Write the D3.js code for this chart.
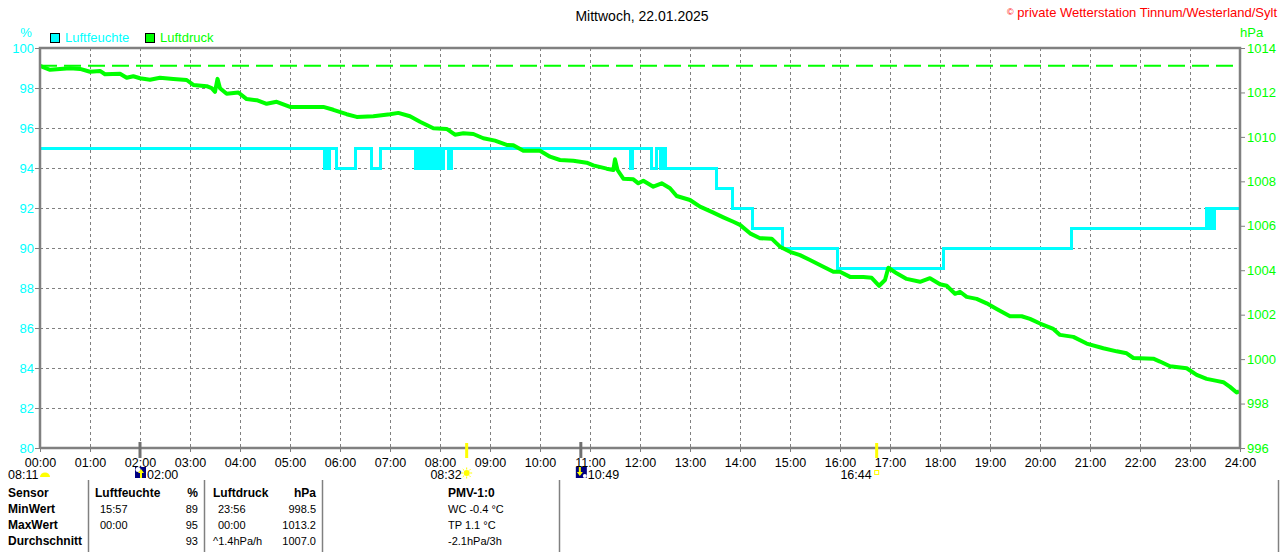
<!DOCTYPE html>
<html>
<head>
<meta charset="utf-8">
<script src="https://cdn.jsdelivr.net/npm/d3@7"></script>
<style>
  body { margin: 0; background: #fff; }
  svg { display: block; }
  .narrow { font-family: "Liberation Sans Narrow", "Arial Narrow", "Liberation Sans", Arial, sans-serif; }
  .plain { font-family: "Liberation Sans", Arial, sans-serif; }
</style>
</head>
<body>
<svg id="chart" width="1280" height="552"></svg>
<script>
const title = "Mittwoch, 22.01.2025";
const copyright = "private Wetterstation Tinnum/Westerland/Sylt";

const humidityTicks = d3.range(80, 101, 2);
const pressureTicks = d3.range(996, 1015, 2);
const hourTicks = d3.range(0, 25);

const pressureMax = 1013.2;

// Luftfeuchte, Stufen (Zeit, %)
const humidityTimes = ["00:00", "05:41", "05:43", "05:45", "05:47", "05:56", "06:18", "06:38", "06:48",
  "07:30", "07:33", "07:36", "07:40", "07:44", "07:46", "07:49", "07:52", "07:55", "07:58", "08:00",
  "08:04", "08:10", "08:14", "11:48", "11:51", "12:14", "12:20", "12:24", "12:27", "12:30", "13:32",
  "13:51", "14:15", "14:51", "15:57", "18:04", "20:38", "23:20", "23:22", "23:24", "23:27", "23:29", "24:00"];
const humidityValues = [95, 94, 95, 94, 95, 94, 95, 94, 95,
  94, 95, 94, 95, 94, 95, 94, 95, 94, 95, 94,
  95, 94, 95, 94, 95, 94, 95, 94, 95, 94, 93,
  92, 91, 90, 89, 90, 91, 92, 91, 92, 91, 92, 92];

// Luftdruck (Zeit, hPa)
const pressureTimes = ["00:00", "00:12", "00:24", "00:36", "00:48", "01:00", "01:12", "01:18", "01:36", "01:44",
  "01:52", "02:00", "02:12", "02:24", "02:40", "02:56", "03:04", "03:20", "03:26", "03:30", "03:33", "03:36",
  "03:44", "03:58", "04:08", "04:20", "04:32", "04:44", "05:00", "05:20", "05:40", "05:52", "06:08", "06:20",
  "06:40", "07:00", "07:10", "07:24", "07:36", "07:52", "08:08", "08:18", "08:28", "08:40", "08:52", "09:06",
  "09:20", "09:28", "09:40", "10:00", "10:12", "10:24", "10:40", "10:56", "11:04", "11:20", "11:28", "11:30",
  "11:33", "11:40", "11:52", "11:58", "12:04", "12:16", "12:26", "12:36", "12:44", "13:00", "13:12", "13:28",
  "13:40", "13:52", "14:00", "14:12", "14:24", "14:38", "14:48", "15:00", "15:12", "15:24", "15:40", "15:52",
  "16:00", "16:12", "16:28", "16:38", "16:47", "16:54", "16:58", "17:08", "17:20", "17:36", "17:48", "18:00",
  "18:08", "18:18", "18:24", "18:32", "18:44", "18:56", "19:08", "19:24", "19:38", "19:48", "20:00", "20:16",
  "20:24", "20:40", "20:56", "21:16", "21:32", "21:44", "21:52", "22:16", "22:24", "22:36", "22:56", "23:08",
  "23:20", "23:32", "23:40", "23:48", "23:56", "23:59"];
const pressureValues = [1013.2, 1013.02, 1013.06, 1013.09, 1013.06, 1012.93, 1012.97, 1012.82, 1012.84, 1012.66,
  1012.73, 1012.64, 1012.57, 1012.66, 1012.61, 1012.56, 1012.34, 1012.28, 1012.19, 1012.03, 1012.61, 1012.19,
  1011.94, 1012.0, 1011.7, 1011.65, 1011.49, 1011.58, 1011.35, 1011.35, 1011.35, 1011.22, 1011.02, 1010.9,
  1010.93, 1011.02, 1011.08, 1010.93, 1010.68, 1010.39, 1010.36, 1010.1, 1010.16, 1010.13, 1009.94, 1009.83,
  1009.64, 1009.62, 1009.38, 1009.38, 1009.11, 1008.96, 1008.93, 1008.84, 1008.72, 1008.57, 1008.51, 1008.99,
  1008.51, 1008.12, 1008.09, 1007.91, 1008.03, 1007.76, 1007.91, 1007.69, 1007.34, 1007.16, 1006.86, 1006.59,
  1006.38, 1006.18, 1006.04, 1005.66, 1005.44, 1005.42, 1005.06, 1004.83, 1004.68, 1004.46, 1004.16, 1003.93,
  1003.93, 1003.7, 1003.7, 1003.66, 1003.3, 1003.56, 1004.11, 1003.86, 1003.61, 1003.48, 1003.64, 1003.37,
  1003.3, 1002.94, 1003.03, 1002.8, 1002.71, 1002.51, 1002.26, 1001.93, 1001.93, 1001.81, 1001.6, 1001.36,
  1001.09, 1001.0, 1000.7, 1000.49, 1000.35, 1000.26, 1000.05, 1000.02, 999.89, 999.68, 999.59, 999.29,
  999.11, 999.02, 998.96, 998.75, 998.5, 998.55];

// Sonne / Mond
const dawnTime = "08:11";
const sunEvents = [
  { time: "08:32", kind: "sunrise" },
  { time: "16:44", kind: "sunset" }
];
const moonEvents = [
  { time: "02:00", kind: "moonrise" },
  { time: "10:49", kind: "moonset" }
];

// Tabelle
const rowLabels = ["Sensor", "MinWert", "MaxWert", "Durchschnitt"];
const humidityHeader = ["Luftfeuchte", "%"];
const humidityTableTimes = ["15:57", "00:00", ""];
const humidityTableValues = ["89", "95", "93"];
const pressureHeader = ["Luftdruck", "hPa"];
const pressureTableTimes = ["23:56", "00:00", "^1.4hPa/h"];
const pressureTableValues = ["998.5", "1013.2", "1007.0"];
const pmvLines = ["PMV-1:0", "WC -0.4 °C", "TP 1.1 °C", "-2.1hPa/3h"];

const toMin = t => {
  const [h, m] = t.split(":").map(Number);
  return h * 60 + m;
};

const svg = d3.select("#chart");
const plotLeft = 40, plotRight = 1240, plotTop = 48, plotBottom = 448;
const cyan = "#00ffff", green = "#00ff00", grey = "#808080";

const x = d3.scaleLinear().domain([0, 1440]).range([plotLeft, plotRight]);
const yHum = d3.scaleLinear().domain([80, 100]).range([plotBottom, plotTop]);
const yPres = d3.scaleLinear().domain([996, 1014]).range([plotBottom, plotTop]);

// Gitter
const grid = svg.append("g").attr("stroke", grey).attr("stroke-dasharray", "3,3").attr("shape-rendering", "crispEdges");
grid.selectAll("line.v")
  .data(hourTicks.slice(1, -1))
  .enter().append("line")
  .attr("x1", d => x(d * 60) + 0.5).attr("x2", d => x(d * 60) + 0.5)
  .attr("y1", plotTop).attr("y2", plotBottom);
grid.selectAll("line.h")
  .data(humidityTicks.slice(1, -1))
  .enter().append("line")
  .attr("x1", plotLeft).attr("x2", plotRight)
  .attr("y1", d => yHum(d) + 0.5).attr("y2", d => yHum(d) + 0.5);

// Maximum Luftdruck
svg.append("line")
  .attr("x1", plotLeft).attr("x2", plotRight)
  .attr("y1", yPres(pressureMax)).attr("y2", yPres(pressureMax))
  .attr("stroke", green).attr("stroke-width", 2)
  .attr("stroke-dasharray", "17,7");

// Linien
const humData = humidityTimes.map((t, i) => ({ t: toMin(t), v: humidityValues[i] }));
const presData = pressureTimes.map((t, i) => ({ t: toMin(t), v: pressureValues[i] }));

svg.append("path")
  .datum(humData)
  .attr("fill", "none")
  .attr("stroke", cyan)
  .attr("stroke-width", 3)
  .attr("shape-rendering", "crispEdges")
  .attr("d", d3.line().x(d => x(d.t)).y(d => yHum(d.v)).curve(d3.curveStepAfter));

svg.append("path")
  .datum(presData)
  .attr("fill", "none")
  .attr("stroke", green)
  .attr("stroke-width", 4)
  .attr("stroke-linejoin", "round")
  .attr("d", d3.line().x(d => x(d.t)).y(d => yPres(d.v)));

// Rahmen
svg.append("path")
  .attr("d", `M${plotLeft},${plotBottom}V${plotTop}H${plotRight}V${plotBottom}H${plotLeft}`)
  .attr("fill", "none").attr("stroke", grey).attr("stroke-width", 2.5);

// Achsen
const axL = svg.append("g").attr("class", "narrow")
  .attr("transform", `translate(${plotLeft},0)`)
  .call(d3.axisLeft(yHum).tickValues(humidityTicks).tickSize(5).tickPadding(1));
axL.select(".domain").remove();
axL.selectAll("line").attr("stroke", grey);
axL.selectAll("text").attr("fill", cyan).attr("font-size", 13);

const axR = svg.append("g").attr("class", "narrow")
  .attr("transform", `translate(${plotRight},0)`)
  .call(d3.axisRight(yPres).tickValues(pressureTicks).tickSize(5).tickPadding(2).tickFormat(d3.format("d")));
axR.select(".domain").remove();
axR.selectAll("line").attr("stroke", grey);
axR.selectAll("text").attr("fill", green).attr("font-size", 13);

const axB = svg.append("g").attr("class", "narrow")
  .attr("transform", `translate(0,${plotBottom})`)
  .call(d3.axisBottom(x).tickValues(hourTicks.map(h => h * 60)).tickSize(4).tickPadding(6)
    .tickFormat(d => d3.format("02d")(d / 60) + ":00"));
axB.select(".domain").remove();
axB.selectAll("line").attr("stroke", grey);
axB.selectAll("text").attr("fill", "#000").attr("font-size", 12.5);

// Titel, Legende
svg.append("text").attr("class", "plain")
  .attr("x", 642).attr("y", 21).attr("text-anchor", "middle")
  .attr("font-size", 14).text(title);

const cr = svg.append("text").attr("class", "narrow")
  .attr("x", 1277).attr("y", 17).attr("text-anchor", "end")
  .attr("font-size", 13).attr("fill", "#ff0000");
cr.append("tspan").attr("font-size", 9).attr("dy", -2).text("©");
cr.append("tspan").attr("dy", 2).text(" " + copyright);

svg.append("text").attr("class", "narrow").attr("x", 26).attr("y", 37)
  .attr("text-anchor", "middle").attr("font-size", 13).attr("fill", cyan).text("%");
svg.append("text").attr("class", "narrow").attr("x", 1240).attr("y", 37)
  .attr("font-size", 13).attr("fill", green).text("hPa");

const legendItems = [
  { name: "Luftfeuchte", color: cyan, x: 50 },
  { name: "Luftdruck", color: green, x: 145 }
];
const lg = svg.append("g").attr("class", "narrow");
lg.selectAll("rect").data(legendItems).enter().append("rect")
  .attr("x", d => d.x + 0.5).attr("y", 33.5).attr("width", 9).attr("height", 9)
  .attr("fill", d => d.color).attr("stroke", "#000");
lg.selectAll("text").data(legendItems).enter().append("text")
  .attr("x", d => d.x + 15).attr("y", 42).attr("font-size", 13)
  .attr("fill", d => d.color).text(d => d.name);

// Sonne / Mond Markierungen
const ev = svg.append("g").attr("class", "narrow").attr("font-size", 12.5);
ev.selectAll("line.sun").data(sunEvents).enter().append("line")
  .attr("x1", d => x(toMin(d.time))).attr("x2", d => x(toMin(d.time)))
  .attr("y1", 443).attr("y2", 458).attr("stroke", "#ffff00").attr("stroke-width", 3);
ev.selectAll("line.moon").data(moonEvents).enter().append("line")
  .attr("x1", d => x(toMin(d.time))).attr("x2", d => x(toMin(d.time)))
  .attr("y1", 442).attr("y2", 458).attr("stroke", "#707070").attr("stroke-width", 3);

ev.append("text").attr("x", 8).attr("y", 479).text(dawnTime);
ev.append("path").attr("d", "M40,477A5,4.5 0 0 1 50,477Z").attr("fill", "#ffff00");

sunEvents.forEach(d => {
  const cx = x(toMin(d.time));
  ev.append("text").attr("x", cx - 5).attr("y", 479).attr("text-anchor", "end").text(d.time);
  if (d.kind === "sunrise") {
    const s = ev.append("g").attr("transform", `translate(${cx},473)`);
    s.append("circle").attr("r", 3).attr("fill", "#ffff00");
    s.selectAll("line").data(d3.range(8)).enter().append("line")
      .attr("x1", a => 3.5 * Math.cos(a * Math.PI / 4)).attr("y1", a => 3.5 * Math.sin(a * Math.PI / 4))
      .attr("x2", a => 5.5 * Math.cos(a * Math.PI / 4)).attr("y2", a => 5.5 * Math.sin(a * Math.PI / 4))
      .attr("stroke", "#ffff00").attr("stroke-width", 1);
  } else {
    ev.append("rect").attr("x", cx - 2).attr("y", 470.5).attr("width", 4).attr("height", 4)
      .attr("fill", "none").attr("stroke", "#ffff00");
  }
});

moonEvents.forEach(d => {
  const cx = x(toMin(d.time));
  ev.append("rect").attr("x", cx - 5).attr("y", 467).attr("width", 11).attr("height", 11).attr("fill", "#000080");
  if (d.kind === "moonrise") {
    ev.append("circle").attr("cx", cx - 2).attr("cy", 469.5).attr("r", 2.5).attr("fill", "#fff");
    ev.append("path").attr("d", `M${cx + 1},469L${cx + 4},473H${cx + 2}V478H${cx}V473H${cx - 2}Z`).attr("fill", "#ffff00");
  } else {
    ev.append("circle").attr("cx", cx + 4).attr("cy", 476).attr("r", 2).attr("fill", "#fff");
    ev.append("path").attr("d", `M${cx - 2},467V472H${cx - 4}L${cx - 1},476L${cx + 2},472H${cx}V467Z`).attr("fill", "#ffff00");
  }
  ev.append("text").attr("x", cx + 7).attr("y", 479).text(d.time);
});

// Tabelle
const tb = svg.append("g").attr("class", "plain").attr("font-size", 11);
const rowY = i => 497 + i * 16;
[88, 204, 322, 559, 1278].forEach(px => {
  tb.append("line").attr("x1", px + 0.5).attr("x2", px + 0.5).attr("y1", 480).attr("y2", 552)
    .attr("stroke", grey).attr("stroke-width", 1.5);
});
tb.selectAll("text.row").data(rowLabels).enter().append("text")
  .attr("x", 8).attr("y", (d, i) => rowY(i)).attr("font-weight", "bold").attr("font-size", 12).text(d => d);

function column(x0, xRight, header, times, values, timeX) {
  tb.append("text").attr("x", x0).attr("y", rowY(0)).attr("font-weight", "bold").attr("font-size", 12).text(header[0]);
  tb.append("text").attr("x", xRight).attr("y", rowY(0)).attr("text-anchor", "end")
    .attr("font-weight", "bold").attr("font-size", 12).text(header[1]);
  times.forEach((t, i) => {
    tb.append("text").attr("x", t.startsWith("^") ? x0 : timeX).attr("y", rowY(i + 1)).text(t);
  });
  values.forEach((v, i) => {
    tb.append("text").attr("x", xRight).attr("y", rowY(i + 1)).attr("text-anchor", "end").text(v);
  });
}
column(95, 198, humidityHeader, humidityTableTimes, humidityTableValues, 100);
column(213, 316, pressureHeader, pressureTableTimes, pressureTableValues, 218);

tb.selectAll("text.pmv").data(pmvLines).enter().append("text")
  .attr("x", 448).attr("y", (d, i) => rowY(i))
  .attr("font-weight", (d, i) => i === 0 ? "bold" : "normal")
  .attr("font-size", (d, i) => i === 0 ? 12 : 11)
  .text(d => d);
</script>
</body>
</html>
